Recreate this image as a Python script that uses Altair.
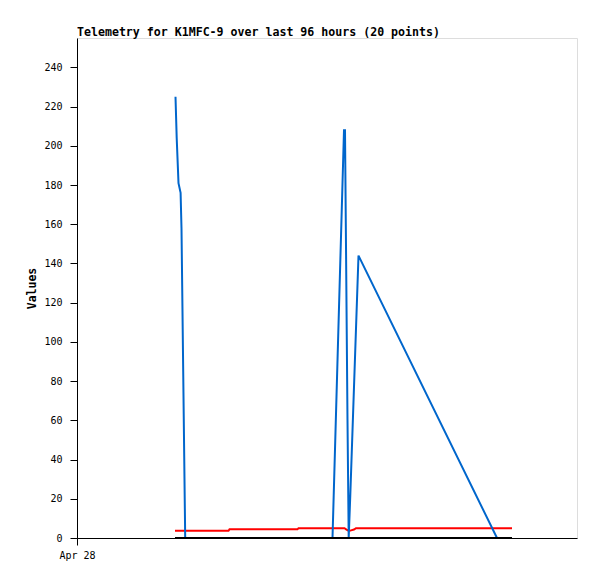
import altair as alt
import pandas as pd

# hours since Apr 28 00:00 (x-domain 0..100 h)
blue_hours = [19.7, 19.94, 20.3, 20.72, 20.9, 21.64, 51.1, 53.4, 53.6, 54.1, 54.34, 54.66, 56.3, 84.0, 87.0]
blue_values = [225, 204, 181, 176, 158, 0, 0, 208, 208, 60, 0, 22, 144, 0, 0]

red_hours = [19.6, 30.3, 30.5, 44.1, 44.3, 53.5, 53.9, 54.4, 54.8, 55.4, 55.8, 87.0]
red_values = [3.7, 3.7, 4.4, 4.4, 5.0, 5.0, 4.3, 3.6, 3.9, 4.3, 5.0, 5.0]

black_hours = [19.6, 87.0]
black_values = [0, 0]

y_ticks = [0, 20, 40, 60, 80, 100, 120, 140, 160, 180, 200, 220, 240]

df_blue = pd.DataFrame({"h": blue_hours, "v": blue_values, "o": range(len(blue_hours))})
df_red = pd.DataFrame({"h": red_hours, "v": red_values, "o": range(len(red_hours))})
df_black = pd.DataFrame({"h": black_hours, "v": black_values, "o": range(len(black_hours))})

FONT = "DejaVu Sans Mono"

x_enc = alt.X(
    "h:Q",
    scale=alt.Scale(domain=[0, 100], nice=False, zero=False),
    axis=alt.Axis(
        values=[0], labelExpr="'Apr 28'", title=None, grid=False,
        tickSize=7, tickColor="black", domainColor="black", labelColor="black",
        labelFont=FONT, labelFontSize=10, labelPadding=5, labelAlign="center",
    ),
)
y_enc = alt.Y(
    "v:Q",
    scale=alt.Scale(domain=[0, 255], nice=False),
    axis=alt.Axis(
        values=y_ticks, title="Values", grid=False,
        tickSize=7, tickColor="black", domainColor="black", labelColor="black",
        labelFont=FONT, labelFontSize=10, labelPadding=8,
        titleFont=FONT, titleFontSize=11.5, titleFontWeight="bold", titleColor="black",
        titlePadding=6,
    ),
)

red = alt.Chart(df_red).mark_line(color="#ff0000", strokeWidth=2, interpolate="linear").encode(
    x=x_enc, y=y_enc, order="o:Q")
blue = alt.Chart(df_blue).mark_line(color="#0066cc", strokeWidth=2, interpolate="linear").encode(
    x=x_enc, y=y_enc, order="o:Q")
black = alt.Chart(df_black).mark_line(color="#000000", strokeWidth=2).encode(
    x=x_enc, y=y_enc, order="o:Q")

chart = alt.layer(red, blue, black).properties(
    width=500,
    height=500,
    title=alt.TitleParams(
        "Telemetry for K1MFC-9 over last 96 hours (20 points)",
        anchor="start", frame="group", font=FONT, fontSize=11.6,
        fontWeight="bold", color="black", offset=-1,
    ),
    autosize=alt.AutoSizeParams(type="none"),
    padding={"left": 69, "top": 30, "right": 12, "bottom": 33},
).configure_view(
    stroke="black", strokeWidth=1
).configure(background="white")

chart.save("out.html", embed_options={"renderer": "svg", "actions": False})
